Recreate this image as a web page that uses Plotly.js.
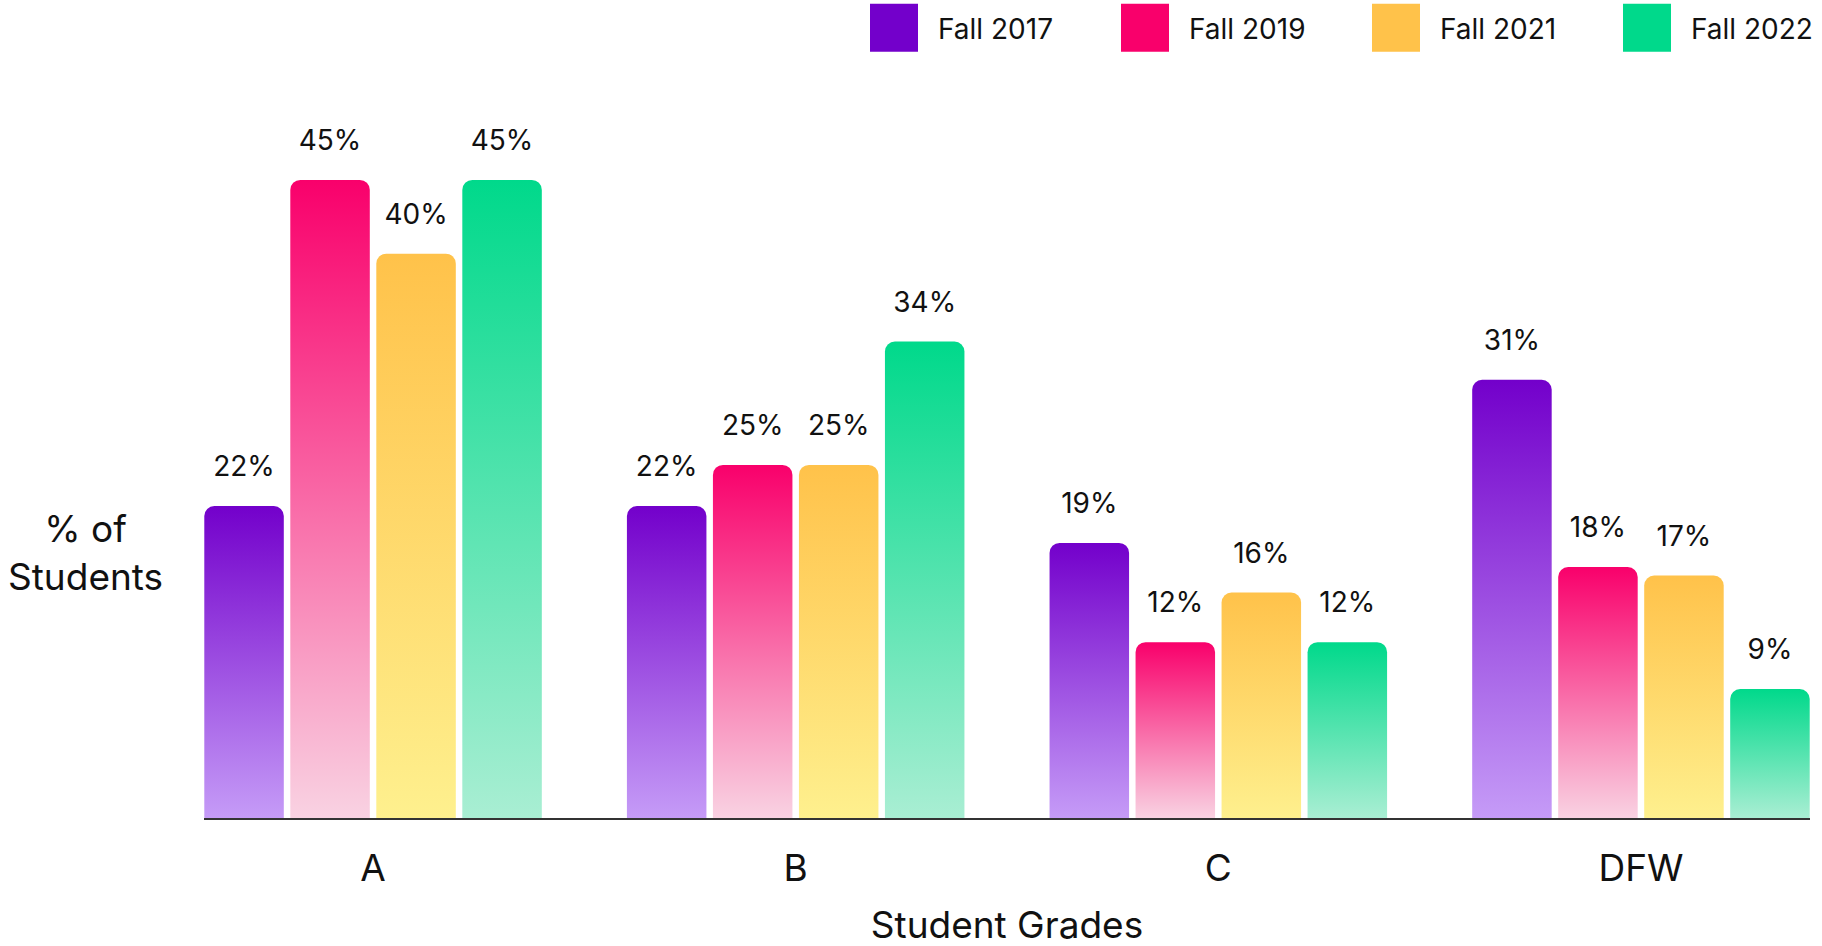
<!DOCTYPE html>
<html>
<head>
<meta charset="utf-8">
<script src="https://cdn.plot.ly/plotly-3.0.1.min.js"></script>
<style>
  html, body { margin: 0; padding: 0; background: #ffffff; }
  #chart { width: 1822px; height: 946px; }
</style>
</head>
<body>
<div id="chart"></div>
<script>
// ---- data ----
const categories = ["A", "B", "C", "DFW"];
const seriesNames = ["Fall 2017", "Fall 2019", "Fall 2021", "Fall 2022"];
const fall2017 = [22, 22, 19.4, 30.9];
const fall2019 = [45, 24.9, 12.4, 17.7];
const fall2021 = [39.8, 24.9, 15.9, 17.1];
const fall2022 = [45, 33.6, 12.4, 9.1];
const seriesValues = [fall2017, fall2019, fall2021, fall2022];

// ---- styles ----
const topColors = ["#7300CB", "#F9006B", "#FFC24A", "#00D98B"];
const bottomColors = ["#C59BF7", "#F9D2E2", "#FEF08E", "#A9EED3"];
const FONT = "Inter, 'Noto Sans', sans-serif";
const INK = "#111111";

const traces = seriesValues.map((vals, i) => ({
  type: "bar",
  name: seriesNames[i],
  x: categories,
  y: vals,
  texttemplate: "%{y:.0f}%",
  textposition: "outside",
  constraintext: "none",
  cliponaxis: false,
  textfont: { family: FONT, size: 28, color: INK },
  marker: { color: topColors[i], cornerradius: 10, line: { width: 0 } },
  hoverinfo: "skip",
  legendwidth: i === 3 ? 125 : 158
}));

const layout = {
  width: 1822,
  height: 946,
  paper_bgcolor: "#ffffff",
  plot_bgcolor: "#ffffff",
  margin: { l: 204, r: 12, t: 109, b: 128, pad: 0 },
  barmode: "group",
  bargap: 0.186,
  bargroupgap: 0.0756,
  font: { family: FONT, color: INK },
  showlegend: true,
  legend: {
    orientation: "h",
    xref: "container", yref: "container",
    x: 850 / 1822, xanchor: "left",
    y: 1 - 3 / 946, yanchor: "top",
    itemwidth: 78,
    entrywidthmode: "pixels",
    entrywidth: 158,
    font: { family: FONT, size: 28, color: INK },
    bgcolor: "rgba(0,0,0,0)",
    borderwidth: 0,
    itemclick: false,
    itemdoubleclick: false
  },
  xaxis: {
    type: "category",
    range: [-0.4, 3.4],
    showline: true,
    linecolor: "#333333",
    linewidth: 2,
    showgrid: false,
    zeroline: false,
    ticks: "",
    ticklabelstandoff: 17,
    tickfont: { family: FONT, size: 37, color: INK },
    automargin: false,
    title: { text: "Student Grades", font: { family: FONT, size: 37, color: INK } }
  },
  yaxis: {
    range: [0, 50],
    showline: false,
    showgrid: false,
    zeroline: false,
    showticklabels: false,
    ticks: "",
    automargin: false,
    fixedrange: true
  },
  annotations: [{
    text: "% of<br>Students",
    xref: "paper", yref: "paper",
    x: -0.074, y: 0.374,
    xanchor: "center", yanchor: "middle",
    align: "center",
    showarrow: false,
    font: { family: FONT, size: 37, color: INK }
  }]
};

Plotly.newPlot("chart", traces, layout, { displayModeBar: false, staticPlot: true }).then(gd => {
  const svgNS = "http://www.w3.org/2000/svg";
  const mainSvg = gd.querySelector(".main-svg");
  let defs = mainSvg.querySelector("defs");
  if (!defs) { defs = document.createElementNS(svgNS, "defs"); mainSvg.insertBefore(defs, mainSvg.firstChild); }
  topColors.forEach((c, i) => {
    const lg = document.createElementNS(svgNS, "linearGradient");
    lg.setAttribute("id", "barGrad" + i);
    lg.setAttribute("x1", "0"); lg.setAttribute("y1", "0");
    lg.setAttribute("x2", "0"); lg.setAttribute("y2", "1");
    const s1 = document.createElementNS(svgNS, "stop");
    s1.setAttribute("offset", "0"); s1.setAttribute("stop-color", c);
    const s2 = document.createElementNS(svgNS, "stop");
    s2.setAttribute("offset", "1"); s2.setAttribute("stop-color", bottomColors[i]);
    lg.appendChild(s1); lg.appendChild(s2);
    defs.appendChild(lg);
  });
  // gradient fill for bars, lift outside labels
  gd.querySelectorAll(".barlayer .trace").forEach((tr, i) => {
    tr.querySelectorAll(".point path").forEach(p => { p.style.fill = "url(#barGrad" + i + ")"; });
    tr.querySelectorAll("text.bartext").forEach(t => {
      const tf = t.getAttribute("transform") || "";
      t.setAttribute("transform", "translate(0,-20) " + tf);
    });
  });
  // nudge x-axis title down slightly
  gd.querySelectorAll(".g-xtitle text").forEach(t => {
    const tf = t.getAttribute("transform") || "";
    t.setAttribute("transform", "translate(0,1) " + tf);
  });
  // big square legend swatches
  gd.querySelectorAll(".legend .legendpoints path").forEach(p => {
    p.setAttribute("d", "M24,24H-24V-24H24Z");
  });
});
</script>
</body>
</html>
